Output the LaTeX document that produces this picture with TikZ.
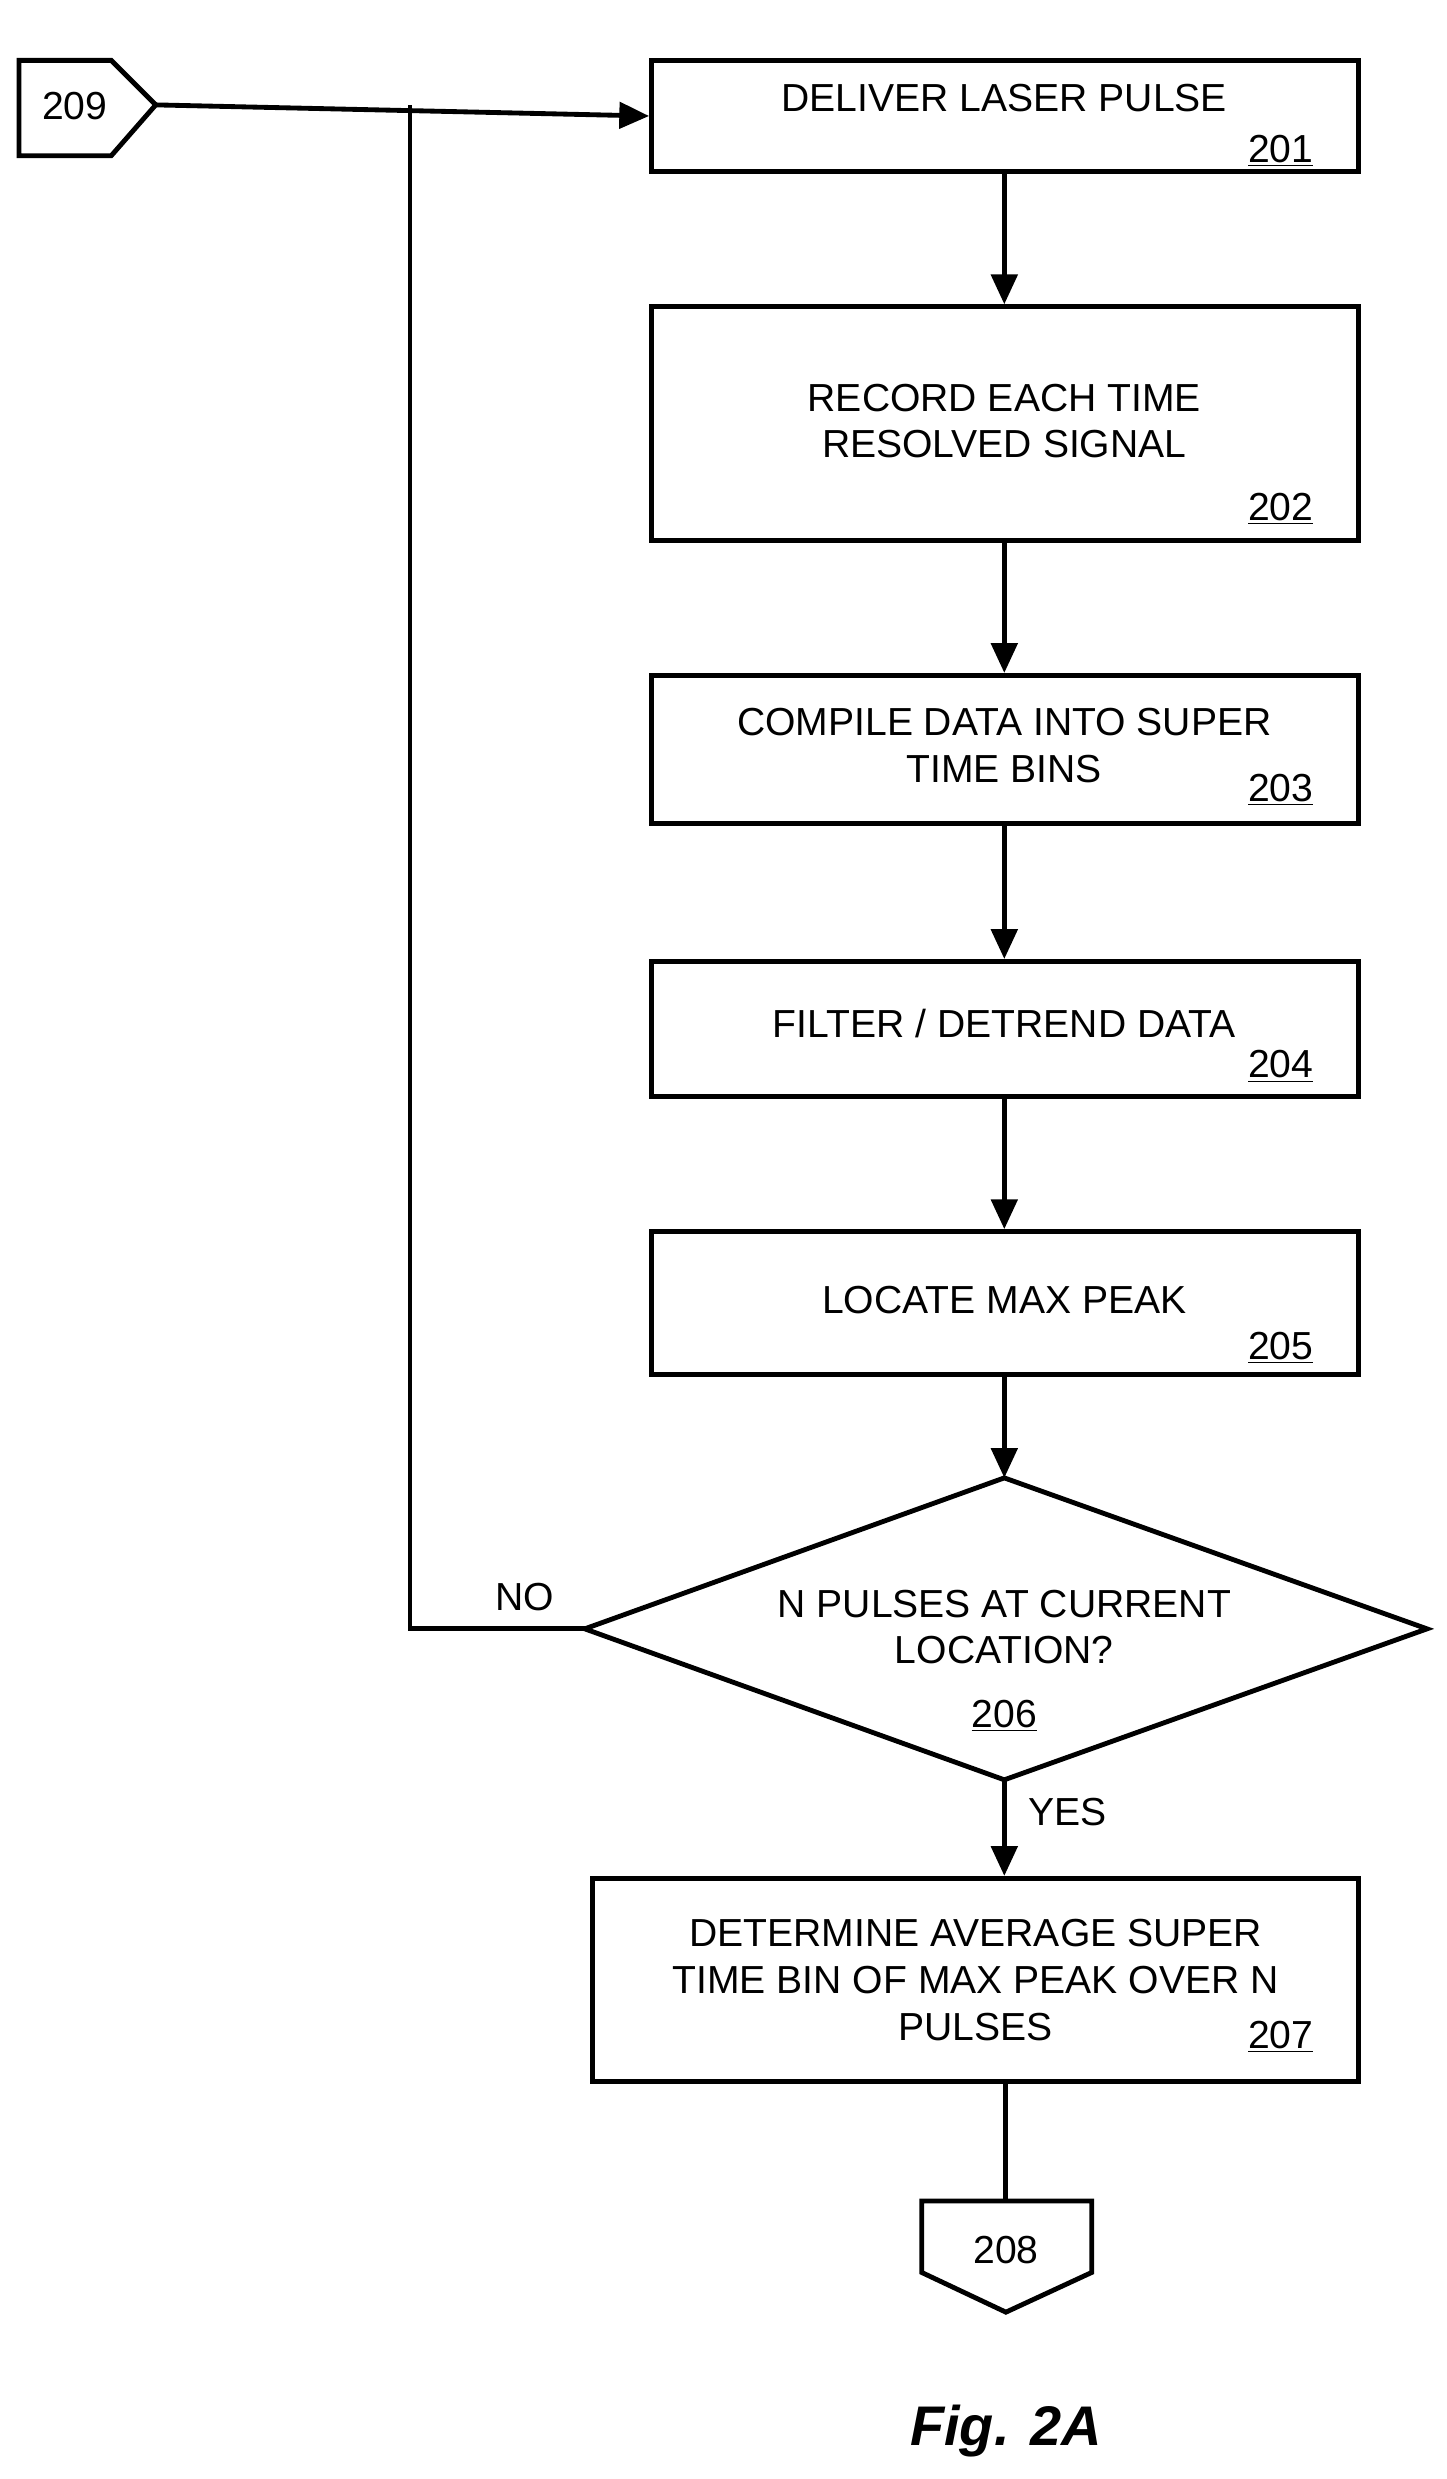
\documentclass[tikz,border=0pt]{standalone}
\usepackage{fontspec}
\setmainfont{Liberation Sans}
\usetikzlibrary{arrows.meta}
\begin{document}
\begin{tikzpicture}[x=0.03cm,y=-0.03cm,
  line width=2.6pt,
  box/.style={draw,rectangle,inner sep=0pt},
  txt/.style={font=\fontsize{21}{25}\selectfont,align=center,inner sep=0pt},
  num/.style={font=\fontsize{21}{25}\selectfont,inner sep=0pt},
  arr/.style={-{Triangle[length=16pt,width=14pt]}}]
\useasboundingbox (0,0) rectangle (910,1560);
% boxes
\node[box,minimum width=13.35cm,minimum height=2.1cm] (b201) at (632.5,73) {};
\node[box,minimum width=13.35cm,minimum height=4.41cm] (b202) at (632.5,266.5) {};
\node[box,minimum width=13.35cm,minimum height=2.79cm] (b203) at (632.5,471.5) {};
\node[box,minimum width=13.35cm,minimum height=2.55cm] (b204) at (632.5,647.5) {};
\node[box,minimum width=13.35cm,minimum height=2.7cm] (b205) at (632.5,820) {};
\node[box,minimum width=14.46cm,minimum height=3.84cm] (b207) at (614,1246) {};
% texts
\node[txt] (t201) at (632,62) {DELIVER LASER PULSE};
\node[num] (n201) at (806,95) {\underline{201}};
\node[txt] (t202) at (632,265) {RECORD EACH TIME\\RESOLVED SIGNAL};
\node[num] (n202) at (806,320) {\underline{202}};
\node[txt] (t203) at (632,469) {COMPILE DATA INTO SUPER\\TIME BINS};
\node[num] (n203) at (806,497) {\underline{203}};
\node[txt] (t204) at (632,644) {FILTER / DETREND DATA};
\node[num] (n204) at (806,671) {\underline{204}};
\node[txt] (t205) at (632,818) {LOCATE MAX PEAK};
\node[num] (n205) at (806,848) {\underline{205}};
\node[txt] (t207) at (614,1246) {DETERMINE AVERAGE SUPER\\TIME BIN OF MAX PEAK OVER N\\PULSES};
\node[num] (n207) at (806,1282) {\underline{207}};
% diamond
\coordinate (dT) at (632,930);
\coordinate (dL) at (368,1025);
\coordinate (dR) at (898,1025);
\coordinate (dB) at (632,1120);
\draw[line join=miter] (dT) -- (dR) -- (dB) -- (dL) -- cycle;
\node[txt] (t206) at (632,1024) {N PULSES AT CURRENT\\LOCATION?};
\node[num] (n206) at (632,1080) {\underline{206}};
\node[num] (no) at (330,1005) {NO};
\node[num] (yes) at (672,1140) {YES};
% connectors 209 and 208
\coordinate (c209a) at (12,38);
\coordinate (c209b) at (70,38);
\coordinate (c209t) at (98,66);
\coordinate (c209c) at (70,98);
\coordinate (c209d) at (12,98);
\draw[line join=miter] (c209a) -- (c209b) -- (c209t) -- (c209c) -- (c209d) -- cycle;
\node[num] (t209) at (47,67) {209};
\coordinate (c208a) at (580,1385);
\coordinate (c208b) at (687,1385);
\coordinate (c208c) at (687,1430);
\coordinate (c208t) at (633,1455);
\coordinate (c208d) at (580,1430);
\draw[line join=miter] (c208a) -- (c208b) -- (c208c) -- (c208t) -- (c208d) -- cycle;
\node[num] (t208) at (633,1416) {208};
% arrows
\draw[arr] (c209t) -- (b201.west);
\draw[arr] (b201.south -| 632,0) -- (b202.north -| 632,0);
\draw[arr] (b202.south -| 632,0) -- (b203.north -| 632,0);
\draw[arr] (b203.south -| 632,0) -- (b204.north -| 632,0);
\draw[arr] (b204.south -| 632,0) -- (b205.north -| 632,0);
\draw[arr] (b205.south -| 632,0) -- (dT);
\draw[arr] (dB) -- (b207.north -| 632,0);
\coordinate (j1) at (258,66);
\coordinate (j2) at (258,1025);
\draw (dL) -- (j2) -- (j1);
\draw (b207.south -| 633,0) -- (c208a -| 633,0);
\node[font=\bfseries\itshape\fontsize{30}{36}\selectfont] (fig) at (633,1530) {Fig. 2A};
\end{tikzpicture}
\end{document}
